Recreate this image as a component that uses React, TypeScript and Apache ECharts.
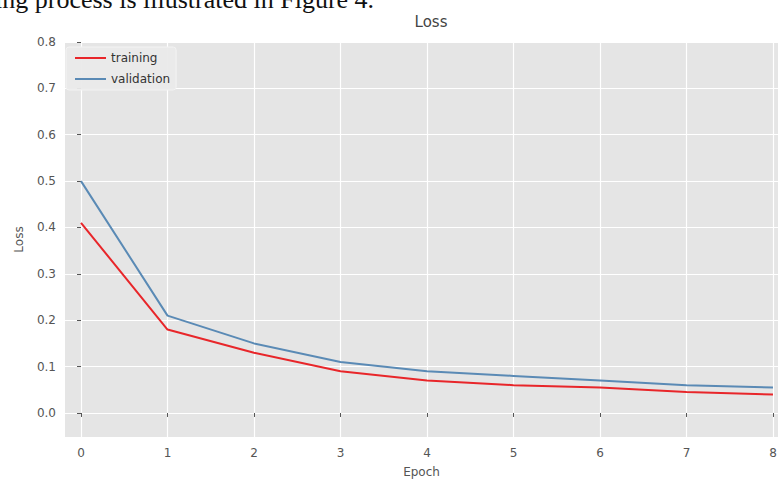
import React, { useEffect, useRef } from "react";
import * as echarts from "echarts";

const epochs = [0, 1, 2, 3, 4, 5, 6, 7, 8];
const training = [0.41, 0.18, 0.13, 0.09, 0.07, 0.06, 0.055, 0.045, 0.04];
const validation = [0.5, 0.21, 0.15, 0.11, 0.09, 0.08, 0.07, 0.06, 0.055];
const xTicks = [0, 1, 2, 3, 4, 5, 6, 7, 8];
const yTicks = [0.0, 0.1, 0.2, 0.3, 0.4, 0.5, 0.6, 0.7, 0.8];

const FONT = "DejaVu Sans";

export default function App() {
  const ref = useRef<HTMLDivElement>(null);
  useEffect(() => {
    if (!ref.current) return;
    const chart = echarts.init(ref.current, null, { renderer: "svg" });
    const axisText = { color: "#555", fontFamily: FONT, fontSize: 12 };
    chart.setOption({
      animation: false,
      backgroundColor: "#ffffff",
      title: {
        text: "Loss",
        left: 426,
        top: 9,
        textAlign: "center",
        textStyle: { color: "#444", fontFamily: FONT, fontSize: 15, fontWeight: "normal" },
      },
      graphic: [
        {
          type: "text",
          left: -5,
          top: -14,
          style: {
            text: "ing process is illustrated in Figure 4.",
            font: '26px "Liberation Serif", "Times New Roman", serif',
            fill: "#111",
          },
        },
      ],
      legend: {
        orient: "vertical",
        left: 66,
        top: 47,
        padding: [4, 6, 4, 9],
        itemGap: 7,
        itemWidth: 31,
        itemHeight: 2,
        icon: "rect",
        backgroundColor: "rgba(234,234,234,0.95)",
        borderColor: "#f3f3f3",
        borderWidth: 1,
        borderRadius: 3,
        textStyle: { color: "#333", fontFamily: FONT, fontSize: 12, lineHeight: 14 },
        data: ["training", "validation"],
      },
      grid: {
        left: 65,
        top: 42,
        right: 0,
        bottom: 44,
        show: true,
        backgroundColor: "#e5e5e5",
        borderWidth: 0,
        containLabel: false,
        outerBoundsMode: "none",
      },
      xAxis: {
        type: "value",
        min: -0.185,
        max: 8.058,
        name: "Epoch",
        nameLocation: "middle",
        nameGap: 29,
        nameTextStyle: { color: "#555", fontFamily: FONT, fontSize: 12 },
        axisLine: { show: false },
        axisTick: { show: true, length: 4, lineStyle: { color: "#555" }, customValues: xTicks },
        axisLabel: { ...axisText, margin: 10, customValues: xTicks, formatter: (v: number) => String(v) },
        splitLine: { show: true, lineStyle: { color: "#ffffff", width: 1.2 } },
      },
      yAxis: {
        type: "value",
        min: -0.0518,
        max: 0.8,
        name: "Loss",
        nameLocation: "middle",
        nameGap: 40,
        nameTextStyle: { color: "#555", fontFamily: FONT, fontSize: 12 },
        axisLine: { show: false },
        axisTick: { show: true, length: 4, lineStyle: { color: "#555" }, customValues: yTicks },
        axisLabel: { ...axisText, margin: 9, customValues: yTicks, formatter: (v: number) => v.toFixed(1) },
        splitLine: { show: true, lineStyle: { color: "#ffffff", width: 1.2 } },
      },
      series: [
        {
          name: "training",
          type: "line",
          symbol: "none",
          data: epochs.map((e, i) => [e, training[i]]),
          lineStyle: { color: "#e8262a", width: 2 },
          itemStyle: { color: "#e8262a" },
          z: 3,
        },
        {
          name: "validation",
          type: "line",
          symbol: "none",
          data: epochs.map((e, i) => [e, validation[i]]),
          lineStyle: { color: "#5a8ab5", width: 2 },
          itemStyle: { color: "#5a8ab5" },
          z: 2,
        },
      ],
    });
    return () => chart.dispose();
  }, []);
  return (
    <div
      ref={ref}
      style={{ position: "fixed", left: 0, top: 0, width: 778, height: 481 }}
    />
  );
}
